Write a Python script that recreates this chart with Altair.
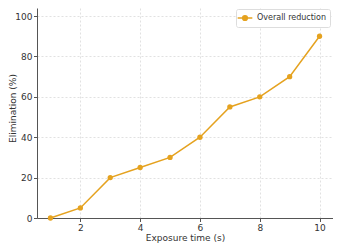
import altair as alt
import pandas as pd

exposure = [1, 2, 3, 4, 5, 6, 7, 8, 9, 10]
elimination = [0, 5, 20, 25, 30, 40, 55, 60, 70, 90]
series = ["Overall reduction"] * len(exposure)

df = pd.DataFrame({"Exposure time (s)": exposure, "Elimination (%)": elimination, "series": series})

COLOR = "#E5A21F"
FONT = "DejaVu Sans"

legend_symbol = "M-1.4,0H1.4M-0.45,0A0.45,0.45 0 1,0 0.45,0A0.45,0.45 0 1,0 -0.45,0Z"

base = alt.Chart(df).encode(
    x=alt.X("Exposure time (s):Q",
            scale=alt.Scale(domain=[0.55, 10.45], nice=False, zero=False),
            axis=alt.Axis(values=[2, 4, 6, 8, 10], title="Exposure time (s)",
                          titleY=15, titleX=148)),
    y=alt.Y("Elimination (%):Q",
            scale=alt.Scale(domain=[0, 104], nice=False),
            axis=alt.Axis(values=[0, 20, 40, 60, 80, 100], title="Elimination (%)",
                          titleX=-19.5, titleY=100)),
    color=alt.Color("series:N", scale=alt.Scale(range=[COLOR]),
                    legend=alt.Legend(title=None, orient="none", legendX=199, legendY=1,
                                      symbolType=legend_symbol, symbolSize=110,
                                      symbolStrokeWidth=1.5, symbolFillColor=COLOR,
                                      labelFontSize=8, labelFont=FONT, labelColor="#333",
                                      labelOffset=6, labelLimit=100,
                                      strokeColor="#ddd", fillColor="white", padding=3,
                                      cornerRadius=2)),
)

line = base.mark_line(strokeWidth=1.5)
pts = base.mark_point(filled=True, size=28, opacity=1, shape="circle")

chart = (line + pts).properties(
    width=296, height=210,
    autosize=alt.AutoSizeParams(type="none"),
    padding={"left": 29, "top": 0, "right": 0, "bottom": 25},
).configure_view(stroke=None).configure_axis(
    labelFont=FONT, titleFont=FONT, labelFontSize=9, titleFontSize=9,
    labelColor="#333", titleColor="#333", titleFontWeight="normal",
    domainColor="#555", domainWidth=1, tickColor="#555", tickSize=3.5,
    gridColor="#d9d9d9", gridDash=[2, 2], gridWidth=0.8, labelPadding=1.5,
)

chart.save("out.html", embed_options={"renderer": "svg", "actions": False})
